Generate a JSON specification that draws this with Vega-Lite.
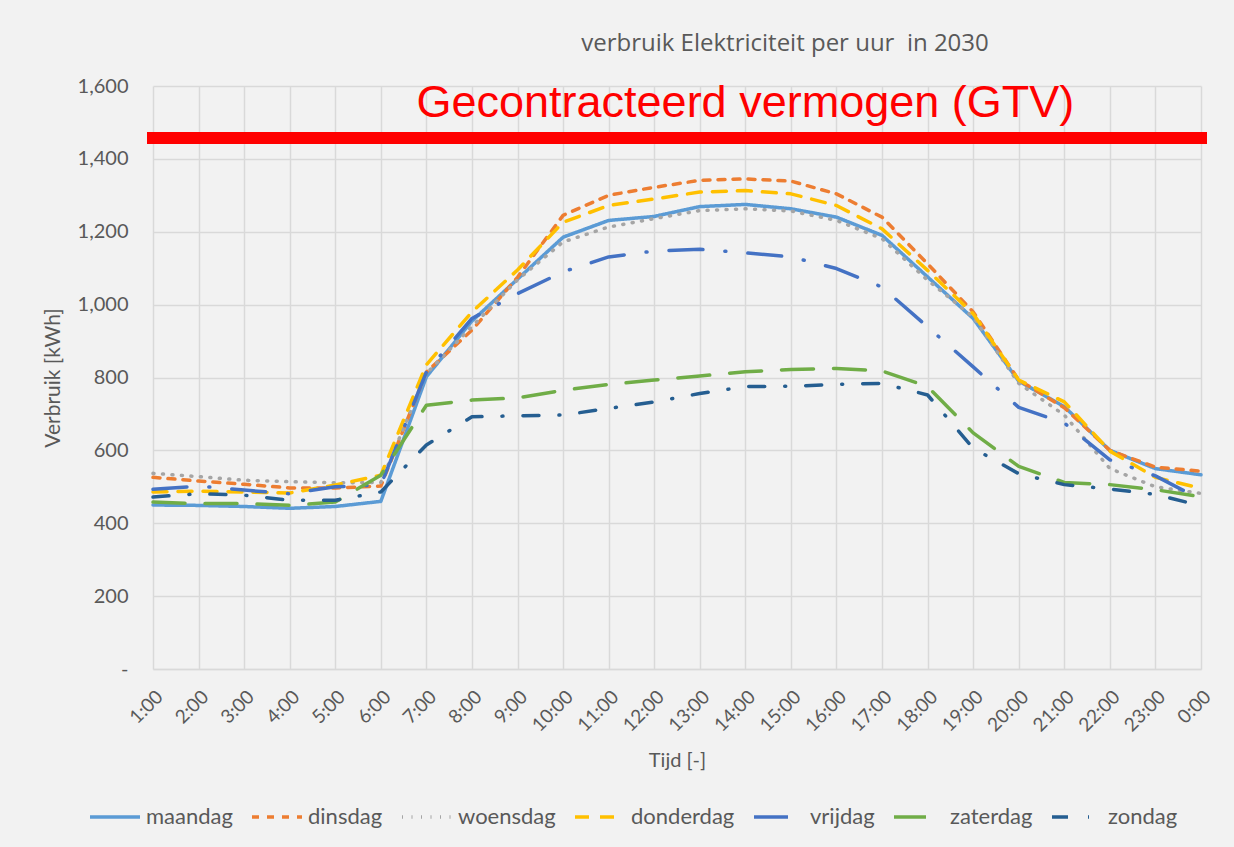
{
  "$schema": "https://vega.github.io/schema/vega-lite/v6.json",
  "width": 1048,
  "height": 583,
  "autosize": {"type": "none"},
  "padding": {"left": 153, "top": 86, "right": 33, "bottom": 178},
  "background": "#f2f2f2",
  "config": {"view": {"stroke": null}, "font": "Lato"},
  "title": {"text": "verbruik Elektriciteit per uur\u00a0 in 2030", "fontSize": 24, "fontWeight": "normal", "color": "#595959", "dx": 108, "offset": 20, "font": "Open Sans"},
  "layer": [
    {
      "data": {"values": [
        {"uur":"1:00","dag":"maandag","kWh":450},{"uur":"2:00","dag":"maandag","kWh":449},{"uur":"3:00","dag":"maandag","kWh":446},{"uur":"4:00","dag":"maandag","kWh":441},{"uur":"5:00","dag":"maandag","kWh":446},{"uur":"6:00","dag":"maandag","kWh":460},{"uur":"7:00","dag":"maandag","kWh":802},{"uur":"8:00","dag":"maandag","kWh":955},{"uur":"9:00","dag":"maandag","kWh":1070},{"uur":"10:00","dag":"maandag","kWh":1185},{"uur":"11:00","dag":"maandag","kWh":1231},{"uur":"12:00","dag":"maandag","kWh":1242},{"uur":"13:00","dag":"maandag","kWh":1269},{"uur":"14:00","dag":"maandag","kWh":1275},{"uur":"15:00","dag":"maandag","kWh":1263},{"uur":"16:00","dag":"maandag","kWh":1240},{"uur":"17:00","dag":"maandag","kWh":1190},{"uur":"18:00","dag":"maandag","kWh":1076},{"uur":"19:00","dag":"maandag","kWh":962},{"uur":"20:00","dag":"maandag","kWh":790},{"uur":"21:00","dag":"maandag","kWh":720},{"uur":"22:00","dag":"maandag","kWh":600},{"uur":"23:00","dag":"maandag","kWh":550},{"uur":"0:00","dag":"maandag","kWh":533},
        {"uur":"1:00","dag":"dinsdag","kWh":526},{"uur":"2:00","dag":"dinsdag","kWh":516},{"uur":"3:00","dag":"dinsdag","kWh":507},{"uur":"4:00","dag":"dinsdag","kWh":497},{"uur":"5:00","dag":"dinsdag","kWh":497},{"uur":"6:00","dag":"dinsdag","kWh":502},{"uur":"7:00","dag":"dinsdag","kWh":815},{"uur":"8:00","dag":"dinsdag","kWh":930},{"uur":"9:00","dag":"dinsdag","kWh":1075},{"uur":"10:00","dag":"dinsdag","kWh":1245},{"uur":"11:00","dag":"dinsdag","kWh":1300},{"uur":"12:00","dag":"dinsdag","kWh":1322},{"uur":"13:00","dag":"dinsdag","kWh":1341},{"uur":"14:00","dag":"dinsdag","kWh":1345},{"uur":"15:00","dag":"dinsdag","kWh":1339},{"uur":"16:00","dag":"dinsdag","kWh":1304},{"uur":"17:00","dag":"dinsdag","kWh":1240},{"uur":"18:00","dag":"dinsdag","kWh":1112},{"uur":"19:00","dag":"dinsdag","kWh":980},{"uur":"20:00","dag":"dinsdag","kWh":793},{"uur":"21:00","dag":"dinsdag","kWh":717},{"uur":"22:00","dag":"dinsdag","kWh":600},{"uur":"23:00","dag":"dinsdag","kWh":554},{"uur":"0:00","dag":"dinsdag","kWh":543},
        {"uur":"1:00","dag":"woensdag","kWh":537},{"uur":"2:00","dag":"woensdag","kWh":528},{"uur":"3:00","dag":"woensdag","kWh":518},{"uur":"4:00","dag":"woensdag","kWh":514},{"uur":"5:00","dag":"woensdag","kWh":511},{"uur":"6:00","dag":"woensdag","kWh":512},{"uur":"7:00","dag":"woensdag","kWh":811},{"uur":"8:00","dag":"woensdag","kWh":940},{"uur":"9:00","dag":"woensdag","kWh":1068},{"uur":"10:00","dag":"woensdag","kWh":1172},{"uur":"11:00","dag":"woensdag","kWh":1213},{"uur":"12:00","dag":"woensdag","kWh":1236},{"uur":"13:00","dag":"woensdag","kWh":1258},{"uur":"14:00","dag":"woensdag","kWh":1263},{"uur":"15:00","dag":"woensdag","kWh":1257},{"uur":"16:00","dag":"woensdag","kWh":1231},{"uur":"17:00","dag":"woensdag","kWh":1181},{"uur":"18:00","dag":"woensdag","kWh":1067},{"uur":"19:00","dag":"woensdag","kWh":966},{"uur":"20:00","dag":"woensdag","kWh":784},{"uur":"21:00","dag":"woensdag","kWh":697},{"uur":"22:00","dag":"woensdag","kWh":550},{"uur":"23:00","dag":"woensdag","kWh":500},{"uur":"0:00","dag":"woensdag","kWh":482},
        {"uur":"1:00","dag":"donderdag","kWh":486},{"uur":"2:00","dag":"donderdag","kWh":488},{"uur":"3:00","dag":"donderdag","kWh":486},{"uur":"4:00","dag":"donderdag","kWh":483},{"uur":"5:00","dag":"donderdag","kWh":505},{"uur":"6:00","dag":"donderdag","kWh":532},{"uur":"7:00","dag":"donderdag","kWh":835},{"uur":"8:00","dag":"donderdag","kWh":980},{"uur":"9:00","dag":"donderdag","kWh":1095},{"uur":"10:00","dag":"donderdag","kWh":1226},{"uur":"11:00","dag":"donderdag","kWh":1272},{"uur":"12:00","dag":"donderdag","kWh":1290},{"uur":"13:00","dag":"donderdag","kWh":1309},{"uur":"14:00","dag":"donderdag","kWh":1313},{"uur":"15:00","dag":"donderdag","kWh":1304},{"uur":"16:00","dag":"donderdag","kWh":1272},{"uur":"17:00","dag":"donderdag","kWh":1208},{"uur":"18:00","dag":"donderdag","kWh":1094},{"uur":"19:00","dag":"donderdag","kWh":975},{"uur":"20:00","dag":"donderdag","kWh":793},{"uur":"21:00","dag":"donderdag","kWh":733},{"uur":"22:00","dag":"donderdag","kWh":598},{"uur":"23:00","dag":"donderdag","kWh":526},{"uur":"0:00","dag":"donderdag","kWh":496},
        {"uur":"1:00","dag":"vrijdag","kWh":493},{"uur":"2:00","dag":"vrijdag","kWh":502},{"uur":"3:00","dag":"vrijdag","kWh":491},{"uur":"4:00","dag":"vrijdag","kWh":481},{"uur":"5:00","dag":"vrijdag","kWh":500},{"uur":"6:00","dag":"vrijdag","kWh":505},{"uur":"7:00","dag":"vrijdag","kWh":815},{"uur":"8:00","dag":"vrijdag","kWh":962},{"uur":"9:00","dag":"vrijdag","kWh":1030},{"uur":"10:00","dag":"vrijdag","kWh":1090},{"uur":"11:00","dag":"vrijdag","kWh":1131},{"uur":"12:00","dag":"vrijdag","kWh":1147},{"uur":"13:00","dag":"vrijdag","kWh":1152},{"uur":"14:00","dag":"vrijdag","kWh":1142},{"uur":"15:00","dag":"vrijdag","kWh":1131},{"uur":"16:00","dag":"vrijdag","kWh":1099},{"uur":"17:00","dag":"vrijdag","kWh":1048},{"uur":"18:00","dag":"vrijdag","kWh":939},{"uur":"19:00","dag":"vrijdag","kWh":829},{"uur":"20:00","dag":"vrijdag","kWh":718},{"uur":"21:00","dag":"vrijdag","kWh":675},{"uur":"22:00","dag":"vrijdag","kWh":574},{"uur":"23:00","dag":"vrijdag","kWh":530},{"uur":"0:00","dag":"vrijdag","kWh":465},
        {"uur":"1:00","dag":"zaterdag","kWh":458},{"uur":"2:00","dag":"zaterdag","kWh":454},{"uur":"3:00","dag":"zaterdag","kWh":454},{"uur":"4:00","dag":"zaterdag","kWh":449},{"uur":"5:00","dag":"zaterdag","kWh":458},{"uur":"6:00","dag":"zaterdag","kWh":532},{"uur":"7:00","dag":"zaterdag","kWh":724},{"uur":"8:00","dag":"zaterdag","kWh":738},{"uur":"9:00","dag":"zaterdag","kWh":744},{"uur":"10:00","dag":"zaterdag","kWh":765},{"uur":"11:00","dag":"zaterdag","kWh":781},{"uur":"12:00","dag":"zaterdag","kWh":793},{"uur":"13:00","dag":"zaterdag","kWh":804},{"uur":"14:00","dag":"zaterdag","kWh":816},{"uur":"15:00","dag":"zaterdag","kWh":822},{"uur":"16:00","dag":"zaterdag","kWh":825},{"uur":"17:00","dag":"zaterdag","kWh":818},{"uur":"18:00","dag":"zaterdag","kWh":775},{"uur":"19:00","dag":"zaterdag","kWh":648},{"uur":"20:00","dag":"zaterdag","kWh":556},{"uur":"21:00","dag":"zaterdag","kWh":512},{"uur":"22:00","dag":"zaterdag","kWh":506},{"uur":"23:00","dag":"zaterdag","kWh":492},{"uur":"0:00","dag":"zaterdag","kWh":473},
        {"uur":"1:00","dag":"zondag","kWh":472},{"uur":"2:00","dag":"zondag","kWh":481},{"uur":"3:00","dag":"zondag","kWh":477},{"uur":"4:00","dag":"zondag","kWh":463},{"uur":"5:00","dag":"zondag","kWh":463},{"uur":"6:00","dag":"zondag","kWh":486},{"uur":"7:00","dag":"zondag","kWh":615},{"uur":"8:00","dag":"zondag","kWh":692},{"uur":"9:00","dag":"zondag","kWh":695},{"uur":"10:00","dag":"zondag","kWh":697},{"uur":"11:00","dag":"zondag","kWh":715},{"uur":"12:00","dag":"zondag","kWh":733},{"uur":"13:00","dag":"zondag","kWh":756},{"uur":"14:00","dag":"zondag","kWh":775},{"uur":"15:00","dag":"zondag","kWh":776},{"uur":"16:00","dag":"zondag","kWh":781},{"uur":"17:00","dag":"zondag","kWh":784},{"uur":"18:00","dag":"zondag","kWh":752},{"uur":"19:00","dag":"zondag","kWh":606},{"uur":"20:00","dag":"zondag","kWh":536},{"uur":"21:00","dag":"zondag","kWh":506},{"uur":"22:00","dag":"zondag","kWh":494},{"uur":"23:00","dag":"zondag","kWh":479},{"uur":"0:00","dag":"zondag","kWh":448}
      ]},
      "mark": {"type": "line", "strokeWidth": 3.5, "strokeCap": "round", "strokeJoin": "round"},
      "encoding": {
        "x": {
          "field": "uur", "type": "ordinal",
          "scale": {"type": "point", "padding": 0, "domain": ["1:00","2:00","3:00","4:00","5:00","6:00","7:00","8:00","9:00","10:00","11:00","12:00","13:00","14:00","15:00","16:00","17:00","18:00","19:00","20:00","21:00","22:00","23:00","0:00"]},
          "axis": {"title": "Tijd [-]", "labelAngle": -45, "labelFontSize": 19, "labelColor": "#595959", "titleFontSize": 20, "titleFontWeight": "normal", "titleColor": "#595959", "grid": true, "gridColor": "#d9d9d9", "gridWidth": 1.5, "domainColor": "#d9d9d9", "domainWidth": 1.5, "ticks": false, "labelPadding": 18, "titlePadding": 16}
        },
        "y": {
          "field": "kWh", "type": "quantitative",
          "scale": {"domain": [0, 1600], "nice": false},
          "axis": {"title": "Verbruik [kWh]", "values": [0,200,400,600,800,1000,1200,1400,1600], "labelExpr": "datum.value == 0 ? '-' : format(datum.value, ',')", "labelFontSize": 20, "labelColor": "#595959", "titleFontSize": 21, "titleFontWeight": "normal", "titleColor": "#595959", "grid": true, "gridColor": "#d9d9d9", "gridWidth": 1.5, "domain": false, "ticks": false, "labelPadding": 25, "titlePadding": 14}
        },
        "color": {
          "field": "dag", "type": "nominal",
          "scale": {"domain": ["maandag","dinsdag","woensdag","donderdag","vrijdag","zaterdag","zondag"], "range": ["#5b9bd5","#ed7d31","#a5a5a5","#ffc000","#4472c4","#70ad47","#255e91"]},
          "legend": {"title": null, "orient": "none", "legendX": -65, "legendY": 704, "direction": "horizontal", "columns": 7, "symbolType": "stroke", "symbolSize": 2500, "symbolStrokeWidth": 3.5, "labelFontSize": 22, "labelColor": "#595959", "columnPadding": 12, "labelOffset": 4}
        },
        "strokeDash": {
          "field": "dag", "type": "nominal",
          "scale": {"domain": ["maandag","dinsdag","woensdag","donderdag","vrijdag","zaterdag","zondag"], "range": [[1,0],[7,8],[1,8.5],[14,11],[34,22,1,22],[32,20],[16,20,1,20]]},
          "legend": {"title": null, "orient": "none", "legendX": -65, "legendY": 704, "direction": "horizontal", "columns": 7, "symbolType": "stroke", "symbolSize": 2500, "symbolStrokeWidth": 3.5, "labelFontSize": 22, "labelColor": "#595959", "columnPadding": 12, "labelOffset": 4}
        }
      }
    },
    {
      "data": {"values": [{}]},
      "mark": {"type": "rule", "color": "#ff0000", "strokeWidth": 12, "strokeCap": "square"},
      "encoding": {"y": {"datum": 1457, "type": "quantitative"}}
    },
    {
      "data": {"values": [{}]},
      "mark": {"type": "text", "color": "#ff0000", "fontSize": 45, "font": "Liberation Sans", "baseline": "alphabetic", "align": "center"},
      "encoding": {"x": {"datum": "14:00", "type": "ordinal"}, "y": {"datum": 1514, "type": "quantitative"}, "text": {"value": "Gecontracteerd vermogen (GTV)"}}
    }
  ]
}
